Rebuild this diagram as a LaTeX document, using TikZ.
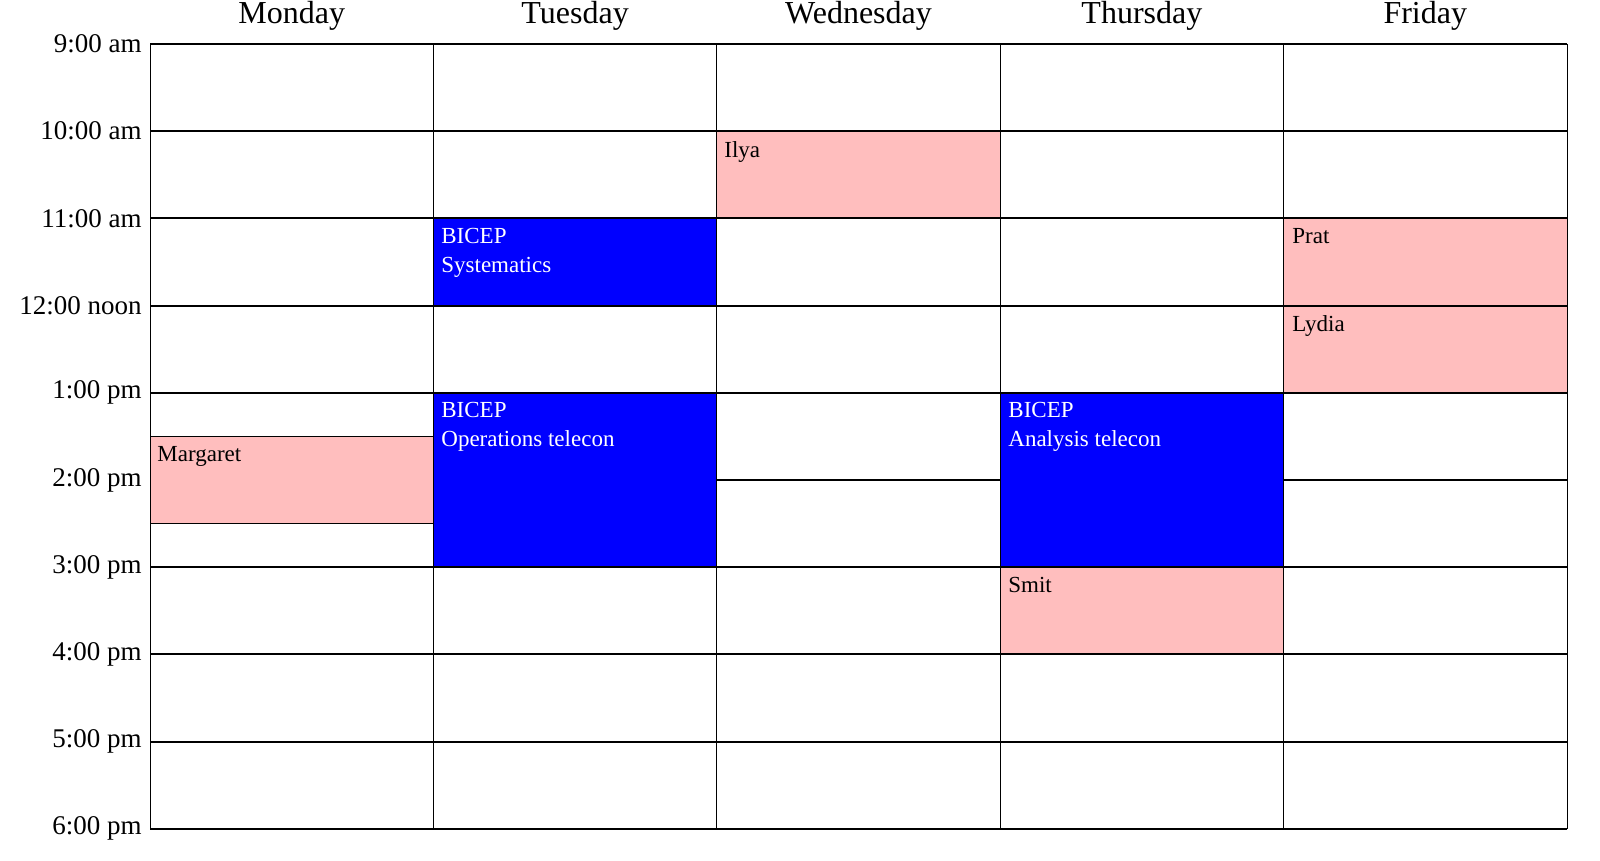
\documentclass[tikz,border=0pt]{standalone}
\usepackage{fontspec}
\setmainfont{Liberation Serif}
\begin{document}
\begin{tikzpicture}[x=0.5pt,y=-0.5pt,
 hline/.style={line width=1pt},
 vline/.style={line width=0.5pt},
 tlabel/.style={anchor=east,font=\fontsize{13.5}{15}\selectfont,inner sep=0pt},
 day/.style={anchor=center,font=\fontsize{16}{18}\selectfont,inner sep=0pt},
 pinkev/.style={fill={rgb,255:red,255;green,190;blue,190},draw=black,line width=0.4pt},
 blueev/.style={fill={rgb,255:red,0;green,0;blue,255},draw=black,line width=0.4pt},
 evtxt/.style={anchor=north west,align=left,font=\fontsize{11.5}{14.5}\selectfont,inner sep=0pt}]
\useasboundingbox (0,0) rectangle (1600,861);
% events
\path[pinkev] (716.8,131.2) rectangle (1000.2,218.4);
\node[evtxt] (ilya) at (724,141) {Ilya};
\path[blueev] (433.4,218.4) rectangle (716.8,305.6);
\node[evtxt,white] (sys) at (441,228) {BICEP\\Systematics};
\path[pinkev] (1283.6,218.4) rectangle (1567,305.6);
\node[evtxt] (prat) at (1292,228) {Prat};
\path[pinkev] (1283.6,305.6) rectangle (1567,392.8);
\node[evtxt] (lydia) at (1292,315) {Lydia};
\path[pinkev] (150,436.4) rectangle (433.4,523.6);
\node[evtxt] (marg) at (157,446) {Margaret};
\path[blueev] (433.4,392.8) rectangle (716.8,567.2);
\node[evtxt,white] (ops) at (441,402) {BICEP\\Operations telecon};
\path[blueev] (1000.2,392.8) rectangle (1283.6,567.2);
\node[evtxt,white] (ana) at (1008,402) {BICEP\\Analysis telecon};
\path[pinkev] (1000.2,567.2) rectangle (1283.6,654.4);
\node[evtxt] (smit) at (1008,577) {Smit};
% grid lines (hour lines hidden by events where they cross them)
\foreach \x in {150,433.4,716.8,1000.2,1283.6,1567} \draw[vline] (\x,44) -- (\x,829);
\foreach \i in {0,1,2,3,4,6,7,8,9} \draw[hline] (150,{44+\i*87.2}) -- (1567,{44+\i*87.2});
\draw[hline] (716.8,480) -- (1000.2,480);
\draw[hline] (1283.6,480) -- (1567,480);
% time labels
\foreach \t [count=\i from 0] in {9:00 am,10:00 am,11:00 am,12:00 noon,1:00 pm,2:00 pm,3:00 pm,4:00 pm,5:00 pm,6:00 pm}
  \node[tlabel] (t\i) at (142,{44+\i*87.2}) {\t};
% days
\foreach \d [count=\i from 0] in {Monday,Tuesday,Wednesday,Thursday,Friday}
  \node[day] (d\i) at ({291.7+\i*283.4},16) {\d};
\end{tikzpicture}
\end{document}
